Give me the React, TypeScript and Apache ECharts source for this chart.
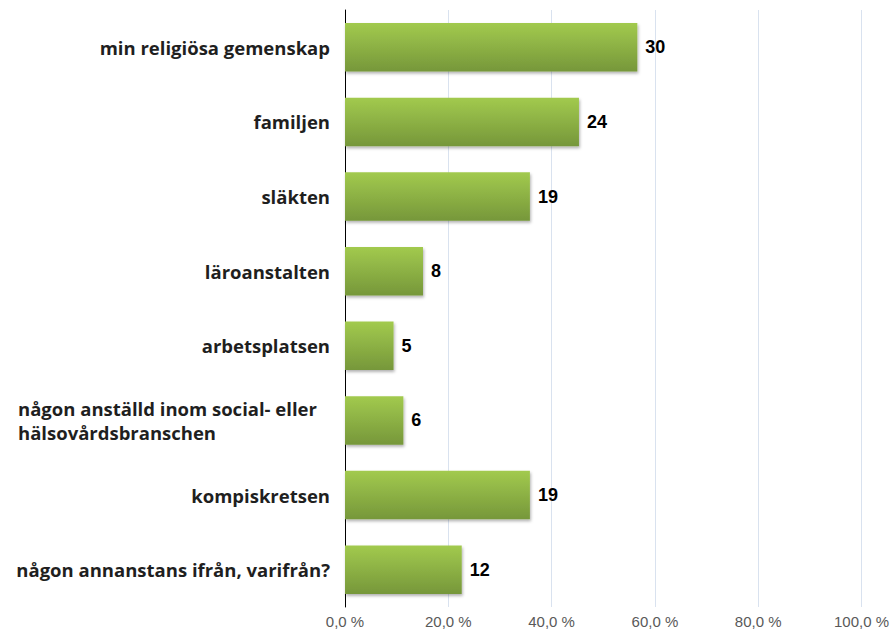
import React, { useEffect, useRef } from "react";
import * as echarts from "echarts";

const categories = [
  "min religiösa gemenskap",
  "familjen",
  "släkten",
  "läroanstalten",
  "arbetsplatsen",
  "någon anställd inom social- eller\nhälsovårdsbranschen",
  "kompiskretsen",
  "någon annanstans ifrån, varifrån?",
];
const percentValues = [56.6, 45.3, 35.8, 15.1, 9.4, 11.3, 35.8, 22.6];
const countLabels = [30, 24, 19, 8, 5, 6, 19, 12];
const tickLabels = ["0,0 %", "20,0 %", "40,0 %", "60,0 %", "80,0 %", "100,0 %"];

export default function App() {
  const ref = useRef<HTMLDivElement>(null);
  useEffect(() => {
    if (!ref.current) return;
    const chart = echarts.init(ref.current, null, { renderer: "svg" });
    chart.setOption({
      animation: false,
      grid: { left: 345, right: 30, top: 10, bottom: 25, containLabel: false },
      xAxis: {
        type: "value",
        min: 0,
        max: 100,
        interval: 20,
        axisLine: { show: false },
        axisTick: { show: false },
        splitLine: { show: true, lineStyle: { color: "#D9E2EF", width: 1 } },
        axisLabel: {
          color: "#595959",
          fontFamily: "Liberation Sans, Arial, sans-serif",
          fontSize: 15,
          margin: 7,
          formatter: (v: number) => tickLabels[Math.round(v / 20)] ?? "",
        },
      },
      yAxis: {
        type: "category",
        data: categories,
        inverse: true,
        axisLine: { show: true, lineStyle: { color: "#000000", width: 1 } },
        axisTick: { show: false },
        axisLabel: {
          color: "#1f1f1f",
          fontFamily: "Open Sans, sans-serif",
          fontWeight: "bold",
          fontSize: 18.5,
          margin: 15,
          lineHeight: 24,
          formatter: (v: string) => {
            if (v.indexOf("\n") >= 0) {
              const parts = v.split("\n");
              return parts.map((p) => "{m|" + p + "}").join("\n");
            }
            return v;
          },
          rich: {
            m: {
              width: 312,
              align: "left",
              fontFamily: "Open Sans, sans-serif",
              fontWeight: "bold",
              fontSize: 18.5,
              color: "#1f1f1f",
              lineHeight: 24,
            },
          },
        },
      },
      series: [
        {
          type: "bar",
          data: percentValues,
          barCategoryGap: "35%",
          itemStyle: {
            color: new echarts.graphic.LinearGradient(0, 0, 0, 1, [
              { offset: 0, color: "#A2CA4E" },
              { offset: 1, color: "#76973A" },
            ]),
            shadowBlur: 3,
            shadowOffsetX: 1,
            shadowOffsetY: 2,
            shadowColor: "rgba(0,0,0,0.3)",
          },
          label: {
            show: true,
            position: "right",
            distance: 8,
            color: "#000000",
            fontFamily: "Liberation Sans, Arial, sans-serif",
            fontWeight: "bold",
            fontSize: 18,
            formatter: (p: any) => String(countLabels[p.dataIndex]),
          },
        },
      ],
    });
    return () => chart.dispose();
  }, []);
  return (
    <div
      ref={ref}
      style={{ position: "fixed", left: 0, top: 0, width: 892, height: 632, background: "#fff" }}
    />
  );
}
